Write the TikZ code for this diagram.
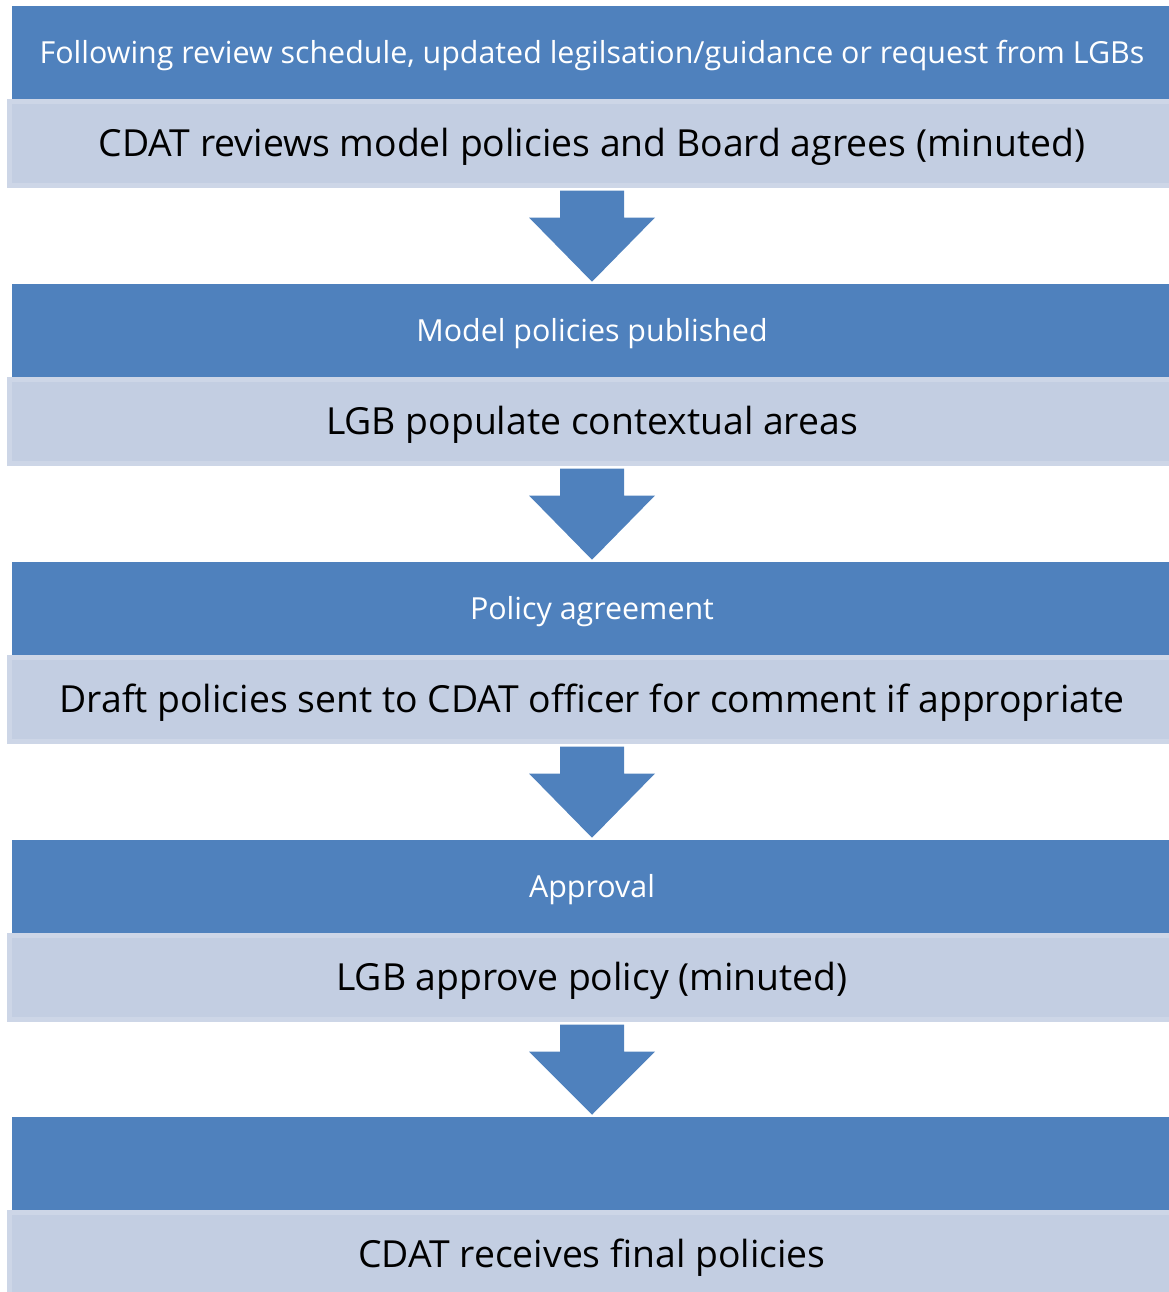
\documentclass[tikz,border=0pt]{standalone}
\usepackage{fontspec}
\setmainfont{Open Sans}
\usetikzlibrary{calc}
\definecolor{hdrblue}{HTML}{4F81BD}
\definecolor{lightfill}{HTML}{C3CEE2}
\definecolor{lightedge}{HTML}{CDD6E7}
\tikzset{
  hdr/.style={fill=hdrblue, draw=none, minimum width=1160*0.75pt, minimum height=93*0.75pt,
    inner sep=0pt, text=white, font=\fontsize{22.8}{26}\selectfont, text height=16.3pt, text depth=0pt},
  body/.style={fill=lightfill, draw=lightedge, line width=3.75pt, minimum width=1165*0.75pt,
    minimum height=84*0.75pt, inner sep=0pt, text=black, font=\fontsize{28}{33}\selectfont,
    text height=20pt, text depth=0pt},
  flowarrow/.style={fill=hdrblue, draw=none}
}
\begin{document}
\begin{tikzpicture}[x=0.75pt,y=-0.75pt]
\useasboundingbox (0,0) rectangle (1169,1292);
\clip (0,0) rectangle (1169,1292);
% header boxes
\node[hdr] (h1) at (592,52.5) {Following review schedule, updated legilsation/guidance or request from LGBs};
\node[hdr] (h2) at (592,330.5) {Model policies published};
\node[hdr] (h3) at (592,608.5) {Policy agreement};
\node[hdr] (h4) at (592,886.5) {Approval};
\node[hdr] (h5) at (592,1163.5) {};
% body boxes
\node[body] (l1) at (592,143.5) {CDAT reviews model policies and Board agrees (minuted)};
\node[body] (l2) at (592,421.5) {LGB populate contextual areas};
\node[body] (l3) at (592,699.5) {Draft policies sent to CDAT officer for comment if appropriate};
\node[body] (l4) at (592,977.5) {LGB approve policy (minuted)};
\node[body] (l5) at (592,1254.5) {CDAT receives final policies};
% arrows
\foreach \a/\b in {l1/h2,l2/h3,l3/h4,l4/h5}{
  \fill[flowarrow] ($(\a.south)+(-32,2.5)$) -- ($(\a.south)+(32,2.5)$) -- ($(\a.south)+(32,29.5)$)
    -- ($(\a.south)+(63,29.5)$) -- ($(\b.north)+(0,-2)$) -- ($(\a.south)+(-63,29.5)$)
    -- ($(\a.south)+(-32,29.5)$) -- cycle;
}
\end{tikzpicture}
\end{document}
